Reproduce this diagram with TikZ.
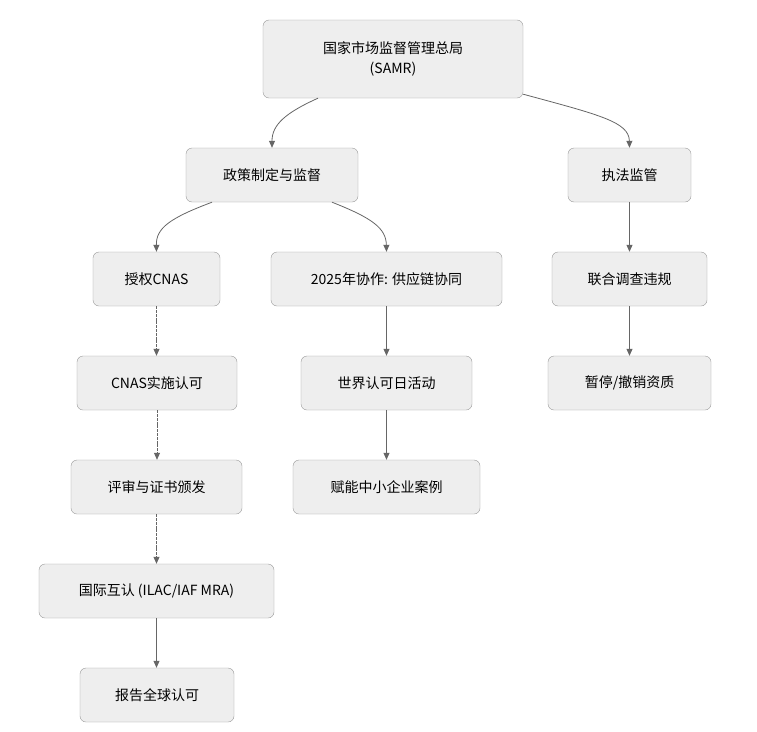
\documentclass[tikz,border=0pt]{standalone}
\usepackage{fontspec}
\setmainfont{Noto Sans CJK SC}
\usetikzlibrary{arrows.meta, positioning}
\definecolor{boxfill}{HTML}{EEEEEE}
\definecolor{boxline}{HTML}{999999}
\definecolor{edgecol}{HTML}{666666}

\begin{document}
\begin{tikzpicture}[x=1pt, y=-1pt,
  box/.style = {draw=boxline, fill=boxfill, rounded corners=6pt, minimum height=54pt,
                align=center, font=\fontsize{14}{20}\selectfont, inner sep=0pt},
  arrow/.style = {draw=edgecol, thick, -{Triangle[width=6pt, length=7pt]}},
  dotarrow/.style = {arrow, dash pattern=on 3pt off 0.8pt}
]
  \useasboundingbox (0,0) rectangle (757,731);

  % top level
  \node[box, minimum width=260pt, minimum height=78pt] (samr) at (393,59) {国家市场监督管理总局\\(SAMR)};

  % second level
  \node[box, minimum width=172pt] (policy) at (272,175) {政策制定与监督};
  \node[box, minimum width=123pt] (enforce) at (629.5,175) {执法监管};

  % third level
  \node[box, minimum width=127pt] (auth) at (156.5,279) {授权CNAS};
  \node[box, minimum width=231pt] (coop) at (386.5,279) {2025年协作: 供应链协同};
  \node[box, minimum width=155pt] (joint) at (629.5,279) {联合调查违规};

  % fourth level
  \node[box, minimum width=160pt] (cnas) at (157,383) {CNAS实施认可};
  \node[box, minimum width=171pt] (wad) at (386.5,383) {世界认可日活动};
  \node[box, minimum width=163pt] (revoke) at (629.5,383) {暂停/撤销资质};

  % lower levels
  \node[box, minimum width=171pt] (review) at (156.5,487) {评审与证书颁发};
  \node[box, minimum width=187pt] (sme) at (386.5,487) {赋能中小企业案例};
  \node[box, minimum width=235pt] (mra) at (156.5,591) {国际互认 (ILAC/IAF MRA)};
  \node[box, minimum width=154pt] (global) at (157,695) {报告全球认可};

  % curved branches
  \draw[arrow] (samr.south -| 318,0) .. controls (285,113) and (272,125) .. (policy.north);
  \draw[arrow] (samr.south east) ++(0,-4) .. controls (600,115) and (629,122) .. (enforce.north);
  \draw[arrow] (policy.south -| 212,0) .. controls (170,218) and (156,228) .. (auth.north);
  \draw[arrow] (policy.south -| 332,0) .. controls (372,218) and (386,228) .. (coop.north);

  % straight chains
  \draw[arrow] (enforce) -- (joint);
  \draw[arrow] (joint) -- (revoke);
  \draw[arrow] (coop) -- (wad);
  \draw[arrow] (wad) -- (sme);
  \draw[dotarrow] (auth) -- (auth |- cnas.north);
  \draw[dotarrow] (cnas) -- (cnas |- review.north);
  \draw[dotarrow] (review) -- (mra);
  \draw[arrow] (mra) -- (mra |- global.north);

\end{tikzpicture}
\end{document}
